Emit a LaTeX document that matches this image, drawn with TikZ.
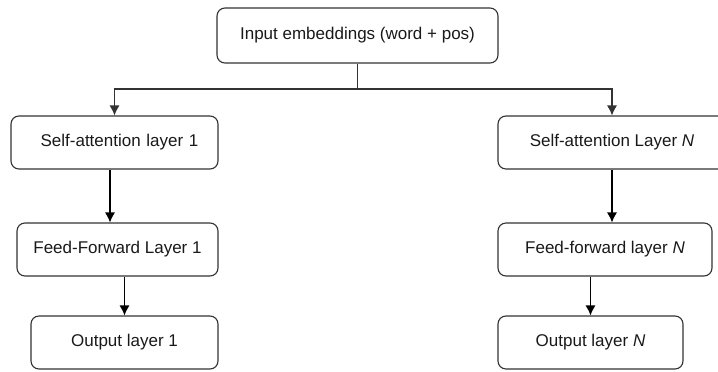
\documentclass[tikz,border=0pt]{standalone}
\usepackage{fontspec}
\setmainfont{Liberation Sans}
\usetikzlibrary{arrows.meta}
\definecolor{edgegray}{HTML}{333333}
\begin{document}
\begin{tikzpicture}[x=1pt,y=-1pt,
    layerbox/.style={draw=edgegray, line width=1.1pt, rounded corners=8pt, minimum height=53pt,
      inner sep=0pt, text=black!90, font=\fontsize{17}{20}\selectfont},
    flow/.style={draw=black, line width=1.1pt, -{Latex[length=10pt,width=10pt]}}]
    \useasboundingbox (0,0) rectangle (718,372);
    \node[layerbox, minimum width=281pt, minimum height=55pt] (embed) at (357.5,35.5) {Input embeddings (word + pos)};
    \node[layerbox, minimum width=207pt, text width=207pt, align=center] (sa1) at (114.5,142.5) {\hspace*{10pt}Self-attention layer 1};
    \node[layerbox, minimum width=201pt] (ff1) at (117.5,249.5) {Feed-Forward Layer 1};
    \node[layerbox, minimum width=187pt] (out1) at (124.5,342.5) {Output layer 1};
    \node[layerbox, minimum width=228pt] (saN) at (612,142.5) {Self-attention Layer \textit{N}};
    \node[layerbox, minimum width=214pt] (ffN) at (605,249.5) {Feed-forward layer \textit{N}};
    \node[layerbox, minimum width=185pt] (outN) at (590.5,342.5) {Output layer \textit{N}};
    \coordinate (split) at (357.5,89);
    \draw[edgegray, line width=1.1pt] (embed) -- (split);
    \draw[flow, draw=edgegray] (split) -| (sa1);
    \draw[flow, draw=edgegray] (split) -| (saN);
    \draw[flow] ([xshift=-4.5pt]sa1.south) -- ([xshift=-4.5pt]sa1.south |- ff1.north);
    \draw[flow] (out1.north |- ff1.south) -- (out1.north);
    \draw[flow] (saN.south) -- (saN.south |- ffN.north);
    \draw[flow] (outN.north |- ffN.south) -- (outN.north);
  \end{tikzpicture}
\end{document}
